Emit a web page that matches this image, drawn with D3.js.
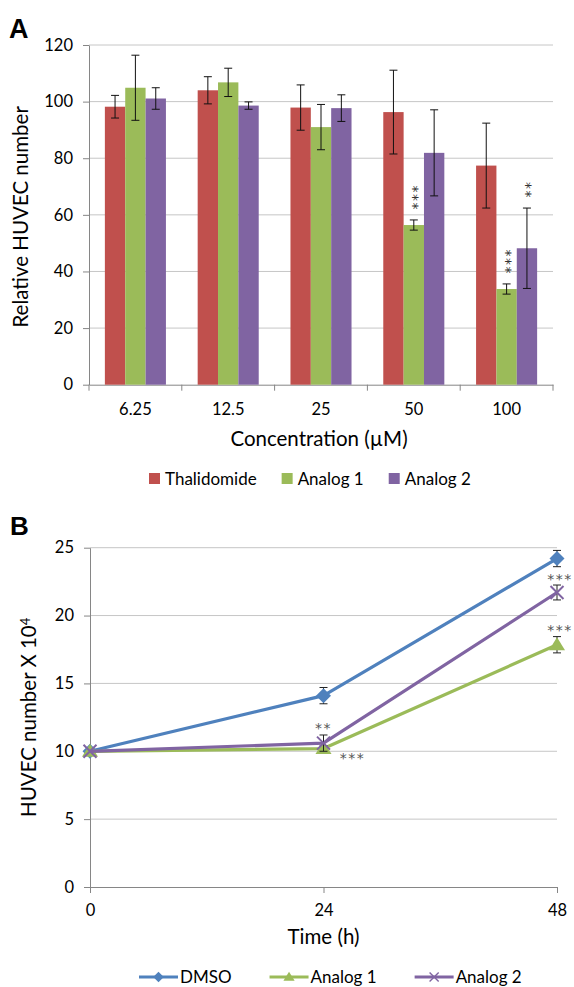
<!DOCTYPE html>
<html>
<head>
<meta charset="utf-8">
<script src="https://cdn.jsdelivr.net/npm/d3@7"></script>
<style>
  body { margin: 0; background: #fff; }
  text { font-family: Lato, "Open Sans", sans-serif; fill: #000; }
</style>
</head>
<body>
<svg id="fig" width="574" height="987"></svg>
<script>
// ---- panel A data (bars) ----
const concentrations = ["6.25", "12.5", "25", "50", "100"];
const barSeries = ["Thalidomide", "Analog 1", "Analog 2"];
const thalidomide = [98.2, 104, 97.9, 96.3, 77.4];
const thalidomideErr = [4, 4.8, 8, 14.8, 15];
const analog1 = [104.9, 106.8, 91, 56.4, 33.8];
const analog1Err = [11.5, 5, 8, 1.8, 1.8];
const analog2 = [101.1, 98.6, 97.7, 81.9, 48.2];
const analog2Err = [3.8, 1.3, 4.7, 15.2, 14.2];
const thalidomideStars = ["", "", "", "", ""];
const analog1Stars = ["", "", "", "***", "***"];
const analog2Stars = ["", "", "", "", "**"];
const yTicksA = [0, 20, 40, 60, 80, 100, 120];

// ---- panel B data (lines) ----
const hours = [0, 24, 48];
const lineSeries = ["DMSO", "Analog 1", "Analog 2"];
const dmso = [10, 14.1, 24.2];
const dmsoErr = [0, 0.6, 0.6];
const lineAnalog1 = [10, 10.2, 17.85];
const lineAnalog1Err = [0, 0.2, 0.6];
const lineAnalog2 = [10, 10.6, 21.7];
const lineAnalog2Err = [0, 0.6, 0.55];
const dmsoStars = ["", "", ""];
const lineAnalog1Stars = ["", "***", "***"];
const lineAnalog2Stars = ["", "**", "***"];
const yTicksB = [0, 5, 10, 15, 20, 25];

const barColors = ["#C0504D", "#9BBB59", "#8064A2"];
const lineColors = ["#4F81BD", "#9BBB59", "#8064A2"];
const axisColor = "#868686";
const gridColor = "#C6C6C6";
const starFont = "'DejaVu Sans', sans-serif";

const svg = d3.select("#fig");

// panel labels
svg.append("text").attr("x", 9).attr("y", 38)
  .style("font-family", "'Liberation Sans', Arial, sans-serif")
  .style("font-weight", "bold").style("font-size", "27px").text("A");
svg.append("text").attr("x", 10).attr("y", 535)
  .style("font-family", "'Liberation Sans', Arial, sans-serif")
  .style("font-weight", "bold").style("font-size", "26px").text("B");

// ================= Panel A =================
const a = { left: 89, right: 553, top: 45, bottom: 384.7 };
const xA = d3.scaleBand().domain(concentrations).range([a.left, a.right]);
const xSub = d3.scaleBand().domain(barSeries).range([0, xA.bandwidth()]).paddingOuter(0.78);
const yA = d3.scaleLinear().domain([0, 120]).range([a.bottom, a.top]);

// grid
svg.append("g")
  .selectAll("line")
  .data(yTicksA.filter(d => d > 0))
  .join("line")
  .attr("x1", a.left).attr("x2", a.right)
  .attr("y1", d => yA(d)).attr("y2", d => yA(d))
  .attr("stroke", gridColor).attr("stroke-width", 1);

// y axis
const yAxisA = svg.append("g")
  .attr("transform", "translate(" + a.left + ",0)")
  .call(d3.axisLeft(yA).tickValues(yTicksA).tickSize(6).tickSizeOuter(0).tickPadding(10));
yAxisA.selectAll("path, line").attr("stroke", axisColor);
yAxisA.selectAll("text").style("font-size", "16.5px").style("font-family", "Lato, sans-serif");

// x axis: labels at band centres, ticks at band boundaries
const xAxisA = svg.append("g")
  .attr("transform", "translate(0," + a.bottom + ")")
  .call(d3.axisBottom(xA).tickSize(0).tickPadding(19));
xAxisA.select(".domain").attr("stroke", axisColor);
xAxisA.selectAll("text").style("font-size", "16.5px").style("font-family", "Lato, sans-serif");
svg.append("g")
  .selectAll("line")
  .data(concentrations.map(c => xA(c)).concat([a.right]))
  .join("line")
  .attr("x1", d => d).attr("x2", d => d)
  .attr("y1", a.bottom).attr("y2", a.bottom + 6)
  .attr("stroke", axisColor);

const barValues = [thalidomide, analog1, analog2];
const barErrs = [thalidomideErr, analog1Err, analog2Err];
const barStars = [thalidomideStars, analog1Stars, analog2Stars];
const barRows = concentrations.flatMap((c, i) => barSeries.map((s, j) => ({
  c: c, s: s, j: j, v: barValues[j][i], e: barErrs[j][i], stars: barStars[j][i]
})));

svg.append("g")
  .selectAll("rect")
  .data(barRows)
  .join("rect")
  .attr("x", d => xA(d.c) + xSub(d.s))
  .attr("y", d => yA(d.v))
  .attr("width", xSub.bandwidth())
  .attr("height", d => a.bottom - yA(d.v))
  .attr("fill", d => barColors[d.j]);

const cx = d => xA(d.c) + xSub(d.s) + xSub.bandwidth() / 2;
const errA = svg.append("g").attr("stroke", "#111").attr("stroke-width", 1);
errA.selectAll(".stem").data(barRows).join("line")
  .attr("x1", cx).attr("x2", cx)
  .attr("y1", d => yA(d.v - d.e)).attr("y2", d => yA(d.v + d.e));
errA.selectAll(".capTop").data(barRows).join("line")
  .attr("x1", d => cx(d) - 4).attr("x2", d => cx(d) + 4)
  .attr("y1", d => yA(d.v + d.e)).attr("y2", d => yA(d.v + d.e));
errA.selectAll(".capBot").data(barRows).join("line")
  .attr("x1", d => cx(d) - 4).attr("x2", d => cx(d) + 4)
  .attr("y1", d => yA(d.v - d.e)).attr("y2", d => yA(d.v - d.e));

// vertical stacks of asterisks above error bars: one rotated text per stack
svg.append("g")
  .selectAll("text")
  .data(barRows.filter(d => d.stars))
  .join("text")
  .attr("transform", d => "translate(" + cx(d) + "," + (yA(d.v + d.e) - 10.5) + ") rotate(-90)")
  .attr("dy", "0.59em")
  .style("font-family", starFont)
  .style("font-size", "14px")
  .style("letter-spacing", "1.5px")
  .style("fill", "#333")
  .text(d => d.stars);

// titles
svg.append("text")
  .attr("transform", "translate(28," + ((a.top + a.bottom) / 2 + 2) + ") rotate(-90)")
  .attr("text-anchor", "middle")
  .style("font-size", "20.5px")
  .text("Relative HUVEC number");
svg.append("text")
  .attr("x", (a.left + a.right) / 2 - 2).attr("y", 446)
  .attr("text-anchor", "middle")
  .style("font-size", "20.5px")
  .text("Concentration (µM)");

// legend A
const legA = svg.append("g");
let lx = 149;
barSeries.forEach((s, j) => {
  legA.append("rect").attr("x", lx).attr("y", 473).attr("width", 11).attr("height", 11).attr("fill", barColors[j]);
  const t = legA.append("text").attr("x", lx + 16).attr("y", 484.5).style("font-size", "17px").text(s);
  lx += 16 + t.node().getComputedTextLength() + 25;
});

// ================= Panel B =================
const b = { left: 90, right: 557, top: 547.7, bottom: 887 };
const xB = d3.scaleLinear().domain([0, 48]).range([b.left, b.right]);
const yB = d3.scaleLinear().domain([0, 25]).range([b.bottom, b.top]);

svg.append("g")
  .selectAll("line")
  .data(yTicksB.filter(d => d > 0))
  .join("line")
  .attr("x1", b.left).attr("x2", b.right)
  .attr("y1", d => yB(d)).attr("y2", d => yB(d))
  .attr("stroke", gridColor).attr("stroke-width", 1);

const yAxisB = svg.append("g")
  .attr("transform", "translate(" + b.left + ",0)")
  .call(d3.axisLeft(yB).tickValues(yTicksB).tickSize(6).tickSizeOuter(0).tickPadding(10));
yAxisB.selectAll("path, line").attr("stroke", axisColor);
yAxisB.selectAll("text").style("font-size", "16.5px").style("font-family", "Lato, sans-serif");

const xAxisB = svg.append("g")
  .attr("transform", "translate(0," + b.bottom + ")")
  .call(d3.axisBottom(xB).tickValues(hours).tickSize(6).tickSizeOuter(0).tickPadding(11));
xAxisB.selectAll("path, line").attr("stroke", axisColor);
xAxisB.selectAll("text").style("font-size", "16.5px").style("font-family", "Lato, sans-serif");

const lineValues = [dmso, lineAnalog1, lineAnalog2];
const lineErrs = [dmsoErr, lineAnalog1Err, lineAnalog2Err];
const lineStarsArr = [dmsoStars, lineAnalog1Stars, lineAnalog2Stars];

const diamondPath = "M0,-7.5L7.5,0L0,7.5L-7.5,0Z";
const trianglePath = "M0,-7.5L8,5.5L-8,5.5Z";
const xPath = "M-6.5,-6.5L6.5,6.5M-6.5,6.5L6.5,-6.5";

function drawMarker(g, j, x, y) {
  if (j === 0) {
    g.append("path").attr("d", diamondPath).attr("transform", "translate(" + x + "," + y + ")")
      .attr("fill", lineColors[0]);
  } else if (j === 1) {
    g.append("path").attr("d", trianglePath).attr("transform", "translate(" + x + "," + y + ")")
      .attr("fill", lineColors[1]);
  } else {
    g.append("path").attr("d", xPath).attr("transform", "translate(" + x + "," + y + ")")
      .attr("fill", "none").attr("stroke", lineColors[2]).attr("stroke-width", 2);
  }
}

const line = d3.line().x((d, i) => xB(hours[i])).y(d => yB(d));

lineSeries.forEach((s, j) => {
  const g = svg.append("g");
  g.append("path").datum(lineValues[j]).attr("d", line)
    .attr("fill", "none").attr("stroke", lineColors[j]).attr("stroke-width", 3.2)
    .attr("stroke-linejoin", "round");
  lineValues[j].forEach((v, i) => {
    const e = lineErrs[j][i];
    const x = xB(hours[i]);
    if (e > 0) {
      const eg = g.append("g").attr("stroke", "#222").attr("stroke-width", 1);
      eg.append("line").attr("x1", x).attr("x2", x).attr("y1", yB(v - e)).attr("y2", yB(v + e));
      eg.append("line").attr("x1", x - 4).attr("x2", x + 4).attr("y1", yB(v + e)).attr("y2", yB(v + e));
      eg.append("line").attr("x1", x - 4).attr("x2", x + 4).attr("y1", yB(v - e)).attr("y2", yB(v - e));
    }
    drawMarker(g, j, x, yB(v));
  });
});

// significance stars (offsets relative to each point's error bar)
const starOffsets = { "1-1": { dx: 29, dy: 14 } };
lineSeries.forEach((s, j) => {
  lineStarsArr[j].forEach((st, i) => {
    if (!st) return;
    const v = lineValues[j][i], e = lineErrs[j][i];
    const off = starOffsets[j + "-" + i];
    let x = xB(hours[i]), y;
    if (off) { x += off.dx; y = yB(v) + off.dy; }
    else { y = yB(v + e) - 9 + 7.5; }
    if (i === 2) x += 3;
    svg.append("text").attr("x", x).attr("y", y)
      .attr("text-anchor", "middle")
      .style("font-family", starFont)
      .style("font-size", "14px").style("letter-spacing", "1.5px")
      .style("fill", "#555")
      .text(st);
  });
});

// titles B
const yTitleB = svg.append("text")
  .attr("transform", "translate(36," + ((b.top + b.bottom) / 2 + 0) + ") rotate(-90)")
  .attr("text-anchor", "middle")
  .style("font-size", "20.5px");
yTitleB.append("tspan").text("HUVEC number X 10");
yTitleB.append("tspan").attr("dy", "-0.5em").style("font-size", "13px").text("4");
svg.append("text")
  .attr("x", (b.left + b.right) / 2).attr("y", 944)
  .attr("text-anchor", "middle")
  .style("font-size", "20.5px")
  .text("Time (h)");

// legend B
const legB = svg.append("g");
let bx = 139;
lineSeries.forEach((s, j) => {
  legB.append("line").attr("x1", bx).attr("x2", bx + 39).attr("y1", 977).attr("y2", 977)
    .attr("stroke", lineColors[j]).attr("stroke-width", 3);
  const mg = legB.append("g").attr("transform", "translate(" + (bx + 19.5) + ",977) scale(0.7)");
  drawMarker(mg, j, 0, 0);
  const t = legB.append("text").attr("x", bx + 41).attr("y", 983).style("font-size", "17px").text(s);
  bx += 41 + t.node().getComputedTextLength() + 38;
});
</script>
</body>
</html>
